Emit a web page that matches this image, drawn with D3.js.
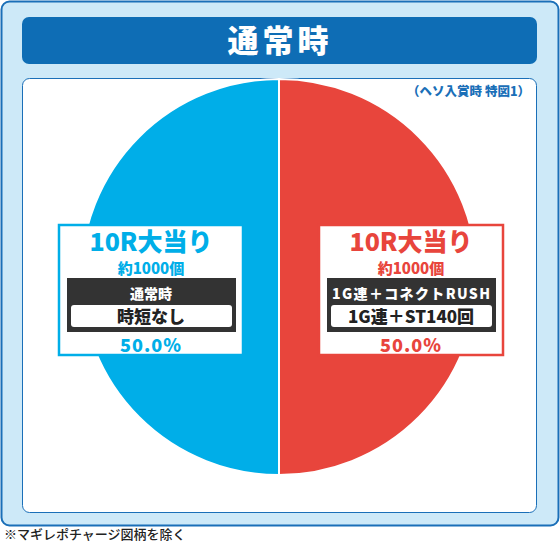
<!DOCTYPE html>
<html><head><meta charset="utf-8">
<script src="https://cdn.jsdelivr.net/npm/d3@7"></script>
<style>body{margin:0;background:#fff}text{font-family:"Noto Sans CJK JP",sans-serif;font-weight:900}</style>
</head><body><svg id="c" width="560" height="543"></svg>
<script>
const values = [50.0, 50.0];
const colors = ["#e8453c", "#00aee8"];
const titles = ["10R大当り", "10R大当り"];
const payouts = ["約1000個", "約1000個"];
const modes = ["1G連＋コネクトRUSH", "通常時"];
const details = ["1G連＋ST140回", "時短なし"];

const svg = d3.select("#c");
svg.append("rect").attr("x", 1.5).attr("y", 1.5).attr("width", 557).attr("height", 524).attr("rx", 8)
  .attr("fill", "#cde9f8").attr("stroke", "#1a6fb8").attr("stroke-width", 2);
svg.append("rect").attr("x", 22).attr("y", 17).attr("width", 515).attr("height", 47).attr("rx", 7).attr("fill", "#0e6db5");
svg.append("text").attr("x", 280).attr("y", 52).attr("text-anchor", "middle").attr("fill", "#fff")
  .attr("font-size", 31).attr("letter-spacing", 4).text("通常時");
svg.append("rect").attr("x", 22.5).attr("y", 78.5).attr("width", 514).attr("height", 434).attr("rx", 7)
  .attr("fill", "#fff").attr("stroke", "#1a6fb8").attr("stroke-width", 1);
svg.append("text").attr("x", 530).attr("y", 96).attr("text-anchor", "end").attr("fill", "#1a6fb8")
  .attr("font-size", 12.5).text("（ヘソ入賞時 特図1）");

const cx = 279, cy = 277, r = 198;
const pie = d3.pie().sort(null)(values);
const arc = d3.arc().innerRadius(0).outerRadius(r);
svg.append("g").attr("transform", `translate(${cx},${cy})`).selectAll("path").data(pie).join("path")
  .attr("d", arc).attr("fill", (d, i) => colors[i]).attr("stroke", "#fff").attr("stroke-width", 2);

// label boxes: index 0 right, 1 left
const boxX = [318, 58];
values.forEach((v, i) => {
  const g = svg.append("g").attr("transform", `translate(${boxX[i]},224)`);
  g.append("rect").attr("x", 1).attr("y", 1).attr("width", 184).attr("height", 130)
    .attr("fill", "#fff").attr("stroke", colors[i]).attr("stroke-width", 2.5);
  g.append("text").attr("x", 93).attr("y", 27).attr("text-anchor", "middle").attr("fill", colors[i])
    .attr("font-size", 25).text(titles[i]);
  g.append("text").attr("x", 93).attr("y", 50).attr("text-anchor", "middle").attr("fill", colors[i])
    .attr("font-size", 15).text(payouts[i]);
  g.append("rect").attr("x", 9).attr("y", 54).attr("width", 169).attr("height", 54).attr("fill", "#333");
  g.append("text").attr("x", 93).attr("y", 75).attr("text-anchor", "middle").attr("fill", "#fff")
    .attr("font-size", 14).attr("textLength", i === 0 ? 158 : null).text(modes[i]);
  g.append("rect").attr("x", 13).attr("y", 81).attr("width", 161).attr("height", 22).attr("rx", 3).attr("fill", "#fff");
  g.append("text").attr("x", 93).attr("y", 98.5).attr("text-anchor", "middle").attr("fill", "#222")
    .attr("font-size", 17).text(details[i]);
  g.append("text").attr("x", 93).attr("y", 128).attr("text-anchor", "middle").attr("fill", colors[i])
    .attr("font-size", 18).attr("letter-spacing", 1).text(d3.format(".1f")(v) + "%");
});

svg.append("text").attr("x", 4).attr("y", 539).attr("fill", "#222").attr("font-size", 13)
  .style("font-weight", "500").text("※マギレポチャージ図柄を除く");
</script></body></html>
